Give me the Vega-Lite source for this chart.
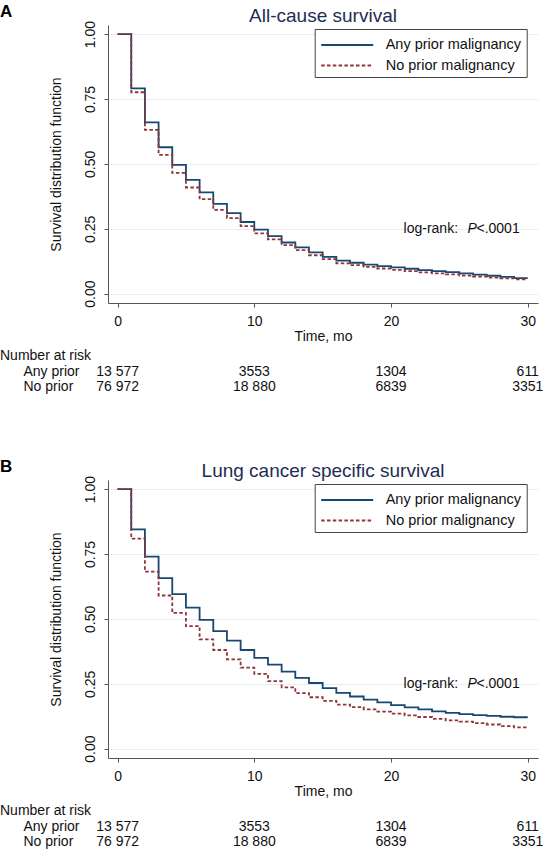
{
  "$schema": "https://vega.github.io/schema/vega-lite/v6.json",
  "padding": {"left": 0, "top": 3, "right": 0, "bottom": 0},
  "background": "white",
  "config": {
    "font": "Liberation Sans",
    "view": {"stroke": null},
    "axis": {
      "domainColor": "#555", "tickColor": "#555", "labelFontSize": 14, "titleFontSize": 14,
      "titleFontWeight": "normal", "labelColor": "#111", "titleColor": "#111", "tickSize": 4,
      "gridColor": "#e5eef0", "gridWidth": 1
    },
    "legend": {
      "symbolType": "M-2.6,0H2.6", "symbolSize": 400, "symbolStrokeWidth": 1.8, "labelFontSize": 14.5,
      "labelColor": "#111", "labelOffset": 27.5, "symbolOffset": 16.5, "padding": 5, "strokeColor": "#444", "fillColor": "white",
      "rowPadding": 2.5, "labelExpr": "datum.label + '\u00a0\u00a0\u00a0\u00a0'"
    }
  },
  "datasets": {
    "survA": [
      {"g":"Any prior malignancy","t":0,"s":1},{"g":"Any prior malignancy","t":1,"s":0.791},{"g":"Any prior malignancy","t":2,"s":0.66},{"g":"Any prior malignancy","t":3,"s":0.564},{"g":"Any prior malignancy","t":4,"s":0.496},{"g":"Any prior malignancy","t":5,"s":0.438},{"g":"Any prior malignancy","t":6,"s":0.39},{"g":"Any prior malignancy","t":7,"s":0.346},{"g":"Any prior malignancy","t":8,"s":0.31},{"g":"Any prior malignancy","t":9,"s":0.276},{"g":"Any prior malignancy","t":10,"s":0.247},{"g":"Any prior malignancy","t":11,"s":0.222},{"g":"Any prior malignancy","t":12,"s":0.197},{"g":"Any prior malignancy","t":13,"s":0.178},{"g":"Any prior malignancy","t":14,"s":0.159},{"g":"Any prior malignancy","t":15,"s":0.142},{"g":"Any prior malignancy","t":16,"s":0.127},{"g":"Any prior malignancy","t":17,"s":0.119},{"g":"Any prior malignancy","t":18,"s":0.112},{"g":"Any prior malignancy","t":19,"s":0.106},{"g":"Any prior malignancy","t":20,"s":0.101},{"g":"Any prior malignancy","t":21,"s":0.096},{"g":"Any prior malignancy","t":22,"s":0.091},{"g":"Any prior malignancy","t":23,"s":0.087},{"g":"Any prior malignancy","t":24,"s":0.083},{"g":"Any prior malignancy","t":25,"s":0.078},{"g":"Any prior malignancy","t":26,"s":0.073},{"g":"Any prior malignancy","t":27,"s":0.069},{"g":"Any prior malignancy","t":28,"s":0.065},{"g":"Any prior malignancy","t":29,"s":0.06},{"g":"Any prior malignancy","t":30,"s":0.06},
      {"g":"No prior malignancy","t":0,"s":1},{"g":"No prior malignancy","t":1,"s":0.776},{"g":"No prior malignancy","t":2,"s":0.631},{"g":"No prior malignancy","t":3,"s":0.535},{"g":"No prior malignancy","t":4,"s":0.465},{"g":"No prior malignancy","t":5,"s":0.409},{"g":"No prior malignancy","t":6,"s":0.364},{"g":"No prior malignancy","t":7,"s":0.323},{"g":"No prior malignancy","t":8,"s":0.291},{"g":"No prior malignancy","t":9,"s":0.26},{"g":"No prior malignancy","t":10,"s":0.232},{"g":"No prior malignancy","t":11,"s":0.209},{"g":"No prior malignancy","t":12,"s":0.187},{"g":"No prior malignancy","t":13,"s":0.168},{"g":"No prior malignancy","t":14,"s":0.148},{"g":"No prior malignancy","t":15,"s":0.133},{"g":"No prior malignancy","t":16,"s":0.117},{"g":"No prior malignancy","t":17,"s":0.11},{"g":"No prior malignancy","t":18,"s":0.103},{"g":"No prior malignancy","t":19,"s":0.097},{"g":"No prior malignancy","t":20,"s":0.092},{"g":"No prior malignancy","t":21,"s":0.087},{"g":"No prior malignancy","t":22,"s":0.082},{"g":"No prior malignancy","t":23,"s":0.078},{"g":"No prior malignancy","t":24,"s":0.074},{"g":"No prior malignancy","t":25,"s":0.07},{"g":"No prior malignancy","t":26,"s":0.066},{"g":"No prior malignancy","t":27,"s":0.062},{"g":"No prior malignancy","t":28,"s":0.059},{"g":"No prior malignancy","t":29,"s":0.055},{"g":"No prior malignancy","t":30,"s":0.055}
    ],
    "survB": [
      {"g":"Any prior malignancy","t":0,"s":1},{"g":"Any prior malignancy","t":1,"s":0.845},{"g":"Any prior malignancy","t":2,"s":0.74},{"g":"Any prior malignancy","t":3,"s":0.657},{"g":"Any prior malignancy","t":4,"s":0.595},{"g":"Any prior malignancy","t":5,"s":0.543},{"g":"Any prior malignancy","t":6,"s":0.496},{"g":"Any prior malignancy","t":7,"s":0.453},{"g":"Any prior malignancy","t":8,"s":0.416},{"g":"Any prior malignancy","t":9,"s":0.38},{"g":"Any prior malignancy","t":10,"s":0.35},{"g":"Any prior malignancy","t":11,"s":0.324},{"g":"Any prior malignancy","t":12,"s":0.297},{"g":"Any prior malignancy","t":13,"s":0.273},{"g":"Any prior malignancy","t":14,"s":0.253},{"g":"Any prior malignancy","t":15,"s":0.233},{"g":"Any prior malignancy","t":16,"s":0.215},{"g":"Any prior malignancy","t":17,"s":0.201},{"g":"Any prior malignancy","t":18,"s":0.189},{"g":"Any prior malignancy","t":19,"s":0.178},{"g":"Any prior malignancy","t":20,"s":0.168},{"g":"Any prior malignancy","t":21,"s":0.159},{"g":"Any prior malignancy","t":22,"s":0.151},{"g":"Any prior malignancy","t":23,"s":0.144},{"g":"Any prior malignancy","t":24,"s":0.138},{"g":"Any prior malignancy","t":25,"s":0.133},{"g":"Any prior malignancy","t":26,"s":0.129},{"g":"Any prior malignancy","t":27,"s":0.126},{"g":"Any prior malignancy","t":28,"s":0.123},{"g":"Any prior malignancy","t":29,"s":0.121},{"g":"Any prior malignancy","t":30,"s":0.121},
      {"g":"No prior malignancy","t":0,"s":1},{"g":"No prior malignancy","t":1,"s":0.809},{"g":"No prior malignancy","t":2,"s":0.682},{"g":"No prior malignancy","t":3,"s":0.59},{"g":"No prior malignancy","t":4,"s":0.523},{"g":"No prior malignancy","t":5,"s":0.472},{"g":"No prior malignancy","t":6,"s":0.421},{"g":"No prior malignancy","t":7,"s":0.38},{"g":"No prior malignancy","t":8,"s":0.344},{"g":"No prior malignancy","t":9,"s":0.312},{"g":"No prior malignancy","t":10,"s":0.288},{"g":"No prior malignancy","t":11,"s":0.26},{"g":"No prior malignancy","t":12,"s":0.236},{"g":"No prior malignancy","t":13,"s":0.214},{"g":"No prior malignancy","t":14,"s":0.198},{"g":"No prior malignancy","t":15,"s":0.184},{"g":"No prior malignancy","t":16,"s":0.17},{"g":"No prior malignancy","t":17,"s":0.16},{"g":"No prior malignancy","t":18,"s":0.151},{"g":"No prior malignancy","t":19,"s":0.143},{"g":"No prior malignancy","t":20,"s":0.135},{"g":"No prior malignancy","t":21,"s":0.128},{"g":"No prior malignancy","t":22,"s":0.122},{"g":"No prior malignancy","t":23,"s":0.115},{"g":"No prior malignancy","t":24,"s":0.109},{"g":"No prior malignancy","t":25,"s":0.104},{"g":"No prior malignancy","t":26,"s":0.098},{"g":"No prior malignancy","t":27,"s":0.093},{"g":"No prior malignancy","t":28,"s":0.087},{"g":"No prior malignancy","t":29,"s":0.082},{"g":"No prior malignancy","t":30,"s":0.082}
    ],
    "risk": [
      {"row":"Any prior","t":0,"n":"13 577"},{"row":"Any prior","t":10,"n":"3553"},{"row":"Any prior","t":20,"n":"1304"},{"row":"Any prior","t":30,"n":"611"},
      {"row":"No prior","t":0,"n":"76 972"},{"row":"No prior","t":10,"n":"18 880"},{"row":"No prior","t":20,"n":"6839"},{"row":"No prior","t":30,"n":"3351"}
    ]
  },
  "resolve": {"scale": {"color": "independent", "strokeDash": "independent"}, "legend": {"color": "independent", "strokeDash": "independent"}},
  "spacing": 64,
  "vconcat": [
    {
      "title": {"text": "A", "anchor": "start", "frame": "bounds", "fontSize": 17, "fontWeight": "bold", "color": "#000", "offset": -14},
      "spacing": 6,
      "resolve": {"scale": {"color": "independent", "strokeDash": "independent"}, "legend": {"color": "independent", "strokeDash": "independent"}},
      "vconcat": [
        {
          "width": 430, "height": 278,
          "title": {"text": "All-cause survival", "fontSize": 19, "fontWeight": "normal", "color": "#1f2d55", "anchor": "middle", "offset": -6},
          "layer": [
            {
              "data": {"name": "survA"},
              "mark": {"type": "line", "interpolate": "step-after", "strokeWidth": 1.8},
              "encoding": {
                "x": {"field": "t", "type": "quantitative", "scale": {"domain": [-0.7, 30.75], "nice": false, "zero": false}, "axis": {"values": [0, 10, 20, 30], "title": "Time, mo", "grid": false, "labelPadding": 7, "titlePadding": 1}},
                "y": {"field": "s", "type": "quantitative", "scale": {"domain": [-0.036, 1.035], "nice": false, "zero": false}, "axis": {"values": [0, 0.25, 0.5, 0.75, 1], "format": ".2f", "title": "Survival distribution function", "grid": true, "labelAngle": -90, "labelAlign": "center", "labelBaseline": "bottom", "labelPadding": 7, "titlePadding": 20}},
                "color": {"field": "g", "type": "nominal", "scale": {"domain": ["Any prior malignancy", "No prior malignancy"], "range": ["#1a476f", "#90353b"]}, "legend": {"orient": "none", "legendX": 206.7, "legendY": 4, "title": null}},
                "strokeDash": {"field": "g", "type": "nominal", "scale": {"domain": ["Any prior malignancy", "No prior malignancy"], "range": [[1, 0], [3.5, 2.3]]}, "legend": {"orient": "none", "legendX": 206.7, "legendY": 4, "title": null}}
              }
            },
            {"data": {"values": [{}]}, "mark": {"type": "text", "align": "right", "baseline": "middle", "fontSize": 14, "color": "#111", "text": "log-rank:"}, "encoding": {"x": {"datum": 24.9}, "y": {"datum": 0.25}}},
            {"data": {"values": [{}]}, "mark": {"type": "text", "align": "left", "baseline": "middle", "fontSize": 14, "fontStyle": "italic", "color": "#111", "text": "P"}, "encoding": {"x": {"datum": 25.6}, "y": {"datum": 0.25}}},
            {"data": {"values": [{}]}, "mark": {"type": "text", "align": "left", "baseline": "middle", "fontSize": 14, "color": "#111", "text": "<.0001"}, "encoding": {"x": {"datum": 26.25}, "y": {"datum": 0.25}}}
          ]
        },
        {
          "width": 430, "height": 30,
          "data": {"name": "risk"},
          "title": {"text": "Number at risk", "anchor": "start", "frame": "bounds", "fontSize": 14, "fontWeight": "normal", "color": "#111", "offset": 1, "dx": -23},
          "mark": {"type": "text", "fontSize": 14, "align": "center", "baseline": "middle", "color": "#111"},
          "encoding": {
            "x": {"field": "t", "type": "quantitative", "scale": {"domain": [-0.7, 30.75], "nice": false, "zero": false}, "axis": null},
            "y": {"field": "row", "type": "nominal", "scale": {"domain": ["Any prior", "No prior"], "padding": 0.5}, "axis": {"title": null, "domain": false, "ticks": false, "grid": false, "labelAlign": "left", "labelPadding": 85, "labelFontSize": 14, "labelColor": "#111"}},
            "text": {"field": "n"}
          }
        }
      ]
    },
    {
      "title": {"text": "B", "anchor": "start", "frame": "bounds", "fontSize": 17, "fontWeight": "bold", "color": "#000", "offset": -14},
      "spacing": 6,
      "resolve": {"scale": {"color": "independent", "strokeDash": "independent"}, "legend": {"color": "independent", "strokeDash": "independent"}},
      "vconcat": [
        {
          "width": 430, "height": 278,
          "title": {"text": "Lung cancer specific survival", "fontSize": 19, "fontWeight": "normal", "color": "#1f2d55", "anchor": "middle", "offset": -6},
          "layer": [
            {
              "data": {"name": "survB"},
              "mark": {"type": "line", "interpolate": "step-after", "strokeWidth": 1.8},
              "encoding": {
                "x": {"field": "t", "type": "quantitative", "scale": {"domain": [-0.7, 30.75], "nice": false, "zero": false}, "axis": {"values": [0, 10, 20, 30], "title": "Time, mo", "grid": false, "labelPadding": 7, "titlePadding": 1}},
                "y": {"field": "s", "type": "quantitative", "scale": {"domain": [-0.036, 1.035], "nice": false, "zero": false}, "axis": {"values": [0, 0.25, 0.5, 0.75, 1], "format": ".2f", "title": "Survival distribution function", "grid": true, "labelAngle": -90, "labelAlign": "center", "labelBaseline": "bottom", "labelPadding": 7, "titlePadding": 20}},
                "color": {"field": "g", "type": "nominal", "scale": {"domain": ["Any prior malignancy", "No prior malignancy"], "range": ["#1a476f", "#90353b"]}, "legend": {"orient": "none", "legendX": 206.7, "legendY": 4, "title": null}},
                "strokeDash": {"field": "g", "type": "nominal", "scale": {"domain": ["Any prior malignancy", "No prior malignancy"], "range": [[1, 0], [3.5, 2.3]]}, "legend": {"orient": "none", "legendX": 206.7, "legendY": 4, "title": null}}
              }
            },
            {"data": {"values": [{}]}, "mark": {"type": "text", "align": "right", "baseline": "middle", "fontSize": 14, "color": "#111", "text": "log-rank:"}, "encoding": {"x": {"datum": 24.9}, "y": {"datum": 0.25}}},
            {"data": {"values": [{}]}, "mark": {"type": "text", "align": "left", "baseline": "middle", "fontSize": 14, "fontStyle": "italic", "color": "#111", "text": "P"}, "encoding": {"x": {"datum": 25.6}, "y": {"datum": 0.25}}},
            {"data": {"values": [{}]}, "mark": {"type": "text", "align": "left", "baseline": "middle", "fontSize": 14, "color": "#111", "text": "<.0001"}, "encoding": {"x": {"datum": 26.25}, "y": {"datum": 0.25}}}
          ]
        },
        {
          "width": 430, "height": 30,
          "data": {"name": "risk"},
          "title": {"text": "Number at risk", "anchor": "start", "frame": "bounds", "fontSize": 14, "fontWeight": "normal", "color": "#111", "offset": 1, "dx": -23},
          "mark": {"type": "text", "fontSize": 14, "align": "center", "baseline": "middle", "color": "#111"},
          "encoding": {
            "x": {"field": "t", "type": "quantitative", "scale": {"domain": [-0.7, 30.75], "nice": false, "zero": false}, "axis": null},
            "y": {"field": "row", "type": "nominal", "scale": {"domain": ["Any prior", "No prior"], "padding": 0.5}, "axis": {"title": null, "domain": false, "ticks": false, "grid": false, "labelAlign": "left", "labelPadding": 85, "labelFontSize": 14, "labelColor": "#111"}},
            "text": {"field": "n"}
          }
        }
      ]
    }
  ]
}
